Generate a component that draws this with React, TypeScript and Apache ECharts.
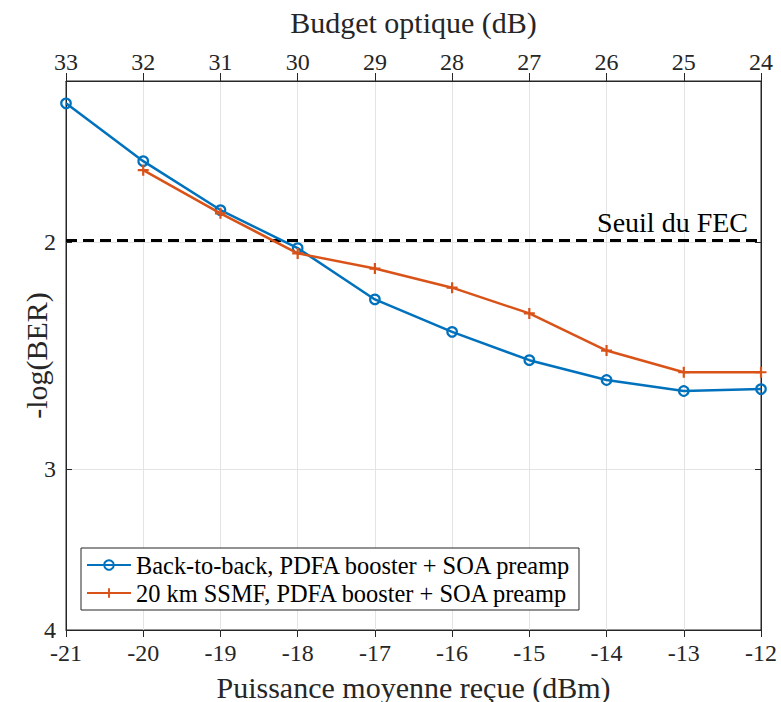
import { useEffect, useRef } from "react";
import * as echarts from "echarts";

// Received mean power (dBm) — bottom axis
const powerDbm = [-21, -20, -19, -18, -17, -16, -15, -14, -13, -12];
// -log(BER) values
const b2bValues = [1.561, 1.731, 1.889, 2.022, 2.216, 2.348, 2.47, 2.559, 2.61, 2.601];
const ssmfValues = [null, 1.759, 1.9, 2.041, 2.097, 2.17, 2.272, 2.428, 2.524, 2.524];
const seriesNames = [
  "Back-to-back, PDFA booster + SOA preamp",
  "20 km SSMF, PDFA booster + SOA preamp",
];
const yTickValues = [2, 3, 4];
const yMin = 1.5;
const yMax = 4;
const powerMin = -21;
const powerMax = -12;
const budgetMin = 24;
const budgetMax = 33;
const FEC_THRESHOLD = 2;
const FEC_LABEL = "Seuil du FEC";

const FONT = "'Liberation Serif', 'Times New Roman', serif";
const AX = "#262626";
const GRID = "#e4e4e4";
const BLUE = "#0072BD";
const ORANGE = "#D95319";

export default function App() {
  const ref = useRef<HTMLDivElement>(null);
  useEffect(() => {
    const chart = echarts.init(ref.current!, null, { renderer: "svg" });
    const yTicksLog = yTickValues.map((v) => Math.log10(v));
    const toPts = (arr: (number | null)[]) =>
      powerDbm.map((x, i) => [x, arr[i] == null ? null : Math.log10(arr[i] as number)]);
    const option: any = {
      animation: false,
      backgroundColor: "#fff",
      textStyle: { fontFamily: FONT },
      grid: {
        left: 66,
        right: 20,
        top: 81,
        bottom: 72,
        containLabel: false,
        outerBoundsMode: "none",
        show: true,
        borderColor: AX,
        borderWidth: 1,
        backgroundColor: "transparent",
      },
      legend: {
        orient: "vertical",
        left: 81,
        top: 548,
        data: seriesNames,
        itemWidth: 44,
        itemHeight: 12,
        itemGap: 4,
        itemTextGap: 5,
        padding: [5, 7, 5, 5],
        borderColor: AX,
        borderWidth: 1,
        borderRadius: 0,
        backgroundColor: "#fff",
        textStyle: { fontFamily: FONT, fontSize: 24.4, color: "#000" },
      },
      xAxis: [
        {
          type: "value",
          position: "bottom",
          min: powerMin,
          max: powerMax,
          interval: 1,
          name: "Puissance moyenne reçue (dBm)",
          nameLocation: "middle",
          nameGap: 42,
          nameMoveOverlap: false,
          nameTextStyle: { fontFamily: FONT, fontSize: 30, color: AX },
          axisLine: { show: true, lineStyle: { color: AX, width: 1 } },
          axisTick: { show: true, inside: false, length: 7, lineStyle: { color: AX } },
          axisLabel: { fontFamily: FONT, fontSize: 24, color: AX, margin: 11 },
          splitLine: { show: true, lineStyle: { color: GRID, width: 1 } },
        },
        {
          type: "value",
          position: "top",
          min: budgetMin,
          max: budgetMax,
          inverse: true,
          interval: 1,
          name: "Budget optique (dB)",
          nameLocation: "middle",
          nameGap: 44,
          nameMoveOverlap: false,
          nameTextStyle: { fontFamily: FONT, fontSize: 30, color: AX },
          axisLine: { show: true, lineStyle: { color: AX, width: 1 } },
          axisTick: { show: true, inside: false, length: 8, lineStyle: { color: AX } },
          axisLabel: { fontFamily: FONT, fontSize: 24, color: AX, margin: 7 },
          splitLine: { show: false },
        },
      ],
      yAxis: [
        {
          type: "value",
          position: "left",
          min: Math.log10(yMin),
          max: Math.log10(yMax),
          inverse: true,
          name: "-log(BER)",
          nameLocation: "middle",
          nameGap: 15,
          nameMoveOverlap: false,
          nameTextStyle: { fontFamily: FONT, fontSize: 30, color: AX },
          axisLine: { show: true, lineStyle: { color: AX, width: 1 } },
          axisTick: {
            show: true,
            inside: true,
            length: 6,
            customValues: yTicksLog,
            lineStyle: { color: AX },
          },
          axisLabel: {
            fontFamily: FONT,
            fontSize: 24,
            color: AX,
            margin: 10,
            customValues: yTicksLog,
            formatter: (v: number) => String(Math.round(Math.pow(10, v))),
          },
          splitLine: { show: true, lineStyle: { color: GRID, width: 1 } },
        },
        {
          type: "value",
          position: "right",
          min: Math.log10(yMin),
          max: Math.log10(yMax),
          inverse: true,
          axisLine: { show: true, lineStyle: { color: AX, width: 1 } },
          axisTick: {
            show: true,
            inside: true,
            length: 6,
            customValues: yTicksLog,
            lineStyle: { color: AX },
          },
          axisLabel: { show: false, customValues: yTicksLog },
          splitLine: { show: false },
        },
      ],
      series: [
        {
          name: seriesNames[0],
          type: "line",
          xAxisIndex: 0,
          yAxisIndex: 0,
          data: toPts(b2bValues),
          color: BLUE,
          symbol: "circle",
          symbolSize: 9.5,
          itemStyle: { color: "rgba(255,255,255,0)", borderColor: BLUE, borderWidth: 2.2 },
          lineStyle: { color: BLUE, width: 2.5 },
          z: 3,
          markLine: {
            silent: true,
            symbol: ["none", "none"],
            z: 2,
            lineStyle: { color: "#000", type: [11, 6], width: 3 },
            label: {
              show: true,
              position: "insideEndTop",
              formatter: FEC_LABEL,
              fontFamily: FONT,
              fontSize: 28,
              color: "#000",
              distance: [13, 4],
            },
            data: [{ yAxis: Math.log10(FEC_THRESHOLD) }],
          },
        },
        {
          name: seriesNames[1],
          type: "line",
          xAxisIndex: 0,
          yAxisIndex: 0,
          data: toPts(ssmfValues),
          color: ORANGE,
          symbol: "path://M4,0H6V4H10V6H6V10H4V6H0V4H4Z",
          symbolSize: 11,
          itemStyle: { color: ORANGE },
          lineStyle: { color: ORANGE, width: 2.5 },
          z: 4,
        },
      ],
    };
    chart.setOption(option);
    return () => chart.dispose();
  }, []);
  return (
    <div
      ref={ref}
      style={{ position: "fixed", left: 0, top: 0, width: 781, height: 702, background: "#fff" }}
    />
  );
}
